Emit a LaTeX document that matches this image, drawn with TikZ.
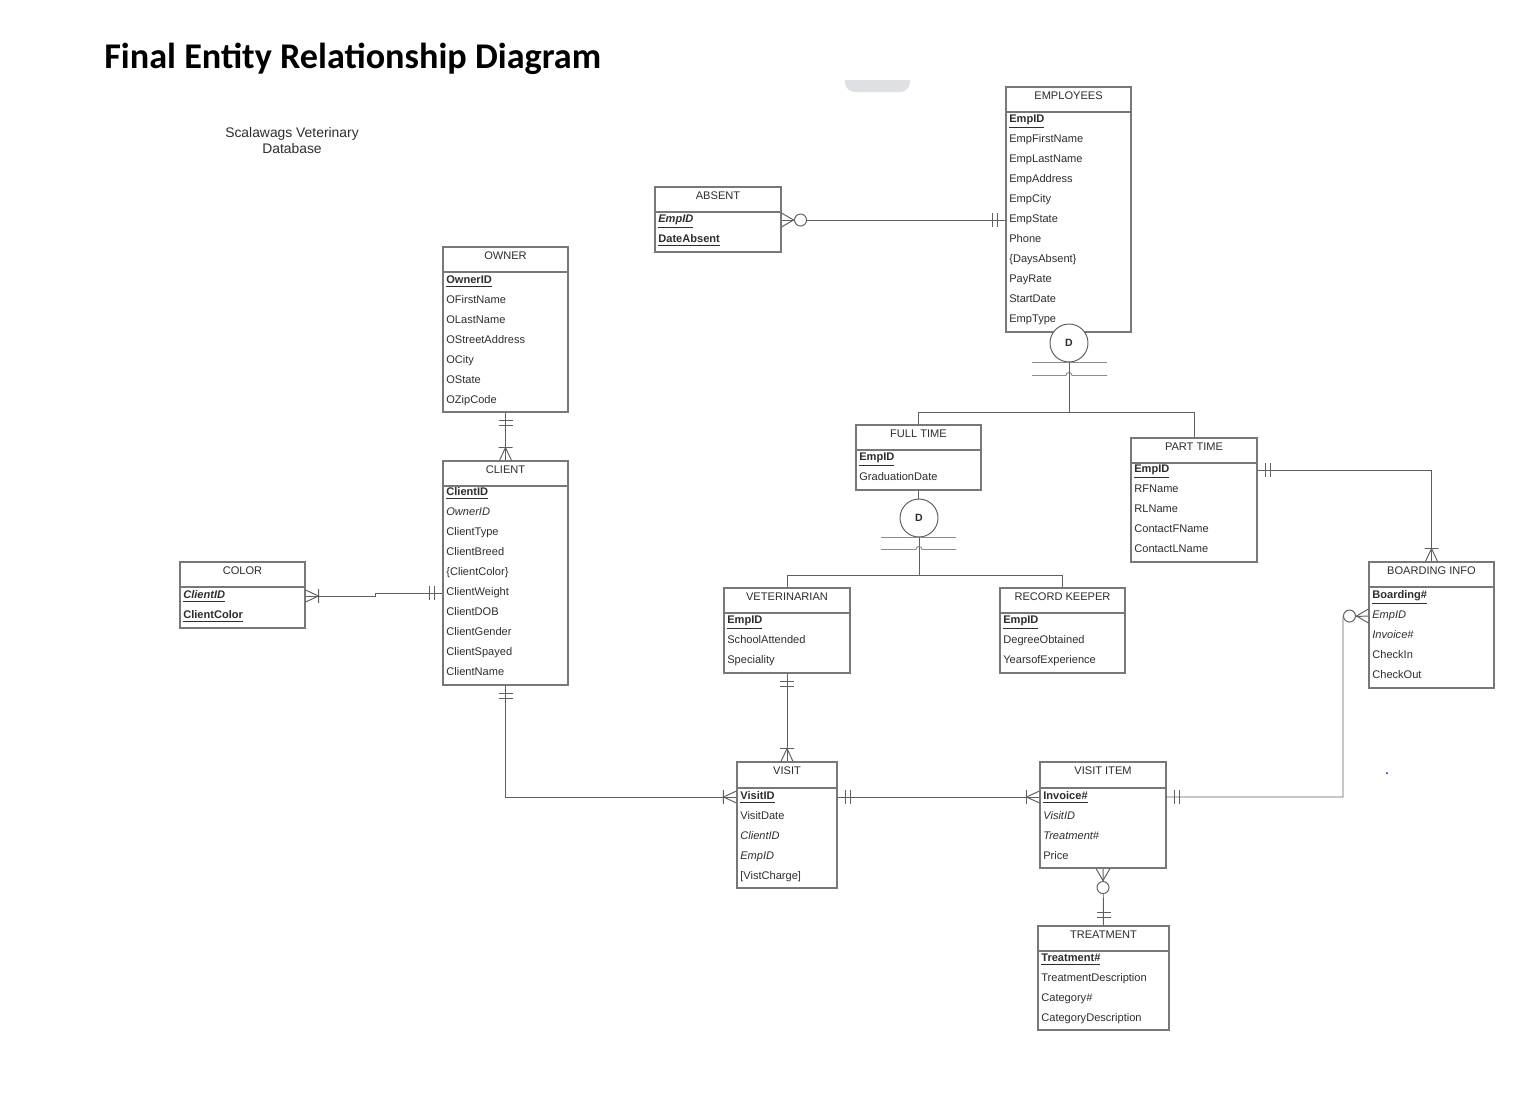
\documentclass[tikz,border=0pt]{standalone}
\usepackage{fontspec}
\setmainfont{Liberation Sans}
\newfontfamily\titlefont{Carlito}
\usetikzlibrary{fit}

\definecolor{linegray}{RGB}{95,95,95}
\definecolor{boxgray}{RGB}{120,120,120}
\definecolor{textgray}{RGB}{45,45,45}
\definecolor{tabgray}{RGB}{223,224,227}

\newcommand{\pkey}[1]{\underline{\textbf{#1}}}
\newcommand{\fkey}[1]{\textit{#1}}

% entity box: name, left, top, right, header bottom, bottom, title
\newcommand{\entity}[7]{%
  \node[ehead, fit={(#2,#3) (#4,#5)}] (#1) {#7};
  \node[ebody, fit={(#2,#5) (#4,#6)}] (#1b) {};
}
% attribute rows: name, left, first row y, list
\newcommand{\attrs}[4]{%
  \foreach \txt [count=\i] in {#4}
    \node[attr] (#1-\i) at (#2+3, #3+20*\i-20) {\txt};
}

\tikzset{
  mandone/.pic={\draw[conn] (8,-7) -- (8,7) (13,-7) -- (13,7);},
  onemany/.pic={\draw[conn] (0,-6) -- (13,0) -- (0,6) (13,-7) -- (13,7);},
  zeromany/.pic={\draw[conn] (0,-7) -- (12,0) -- (0,7);
                 \draw[conn, fill=white] (19,0) circle (6);},
}

\begin{document}
\begin{tikzpicture}[x=0.02cm, y=-0.02cm,
    conn/.style={draw=linegray, line width=0.55pt},
    ehead/.style={draw=boxgray, line width=0.6pt, inner sep=0pt, text=textgray,
                  font=\fontsize{6.3}{7.5}\selectfont},
    ebody/.style={draw=boxgray, line width=0.6pt, inner sep=0pt},
    attr/.style={anchor=west, inner sep=0pt, text=textgray,
                 text height=4.6pt, text depth=1.3pt,
                 font=\fontsize{6.3}{7.5}\selectfont},
    dcirc/.style={circle, draw=linegray, line width=0.55pt, fill=white,
                  minimum size=0.76cm, inner sep=0pt, text=textgray,
                  font=\bfseries\fontsize{6}{7}\selectfont},
    subline/.style={draw=black!45, line width=0.55pt}]
  \useasboundingbox (0,0) rectangle (1532,1110);

  \node[anchor=base west, inner sep=0pt,
        font=\titlefont\bfseries\fontsize{20.6}{24}\selectfont]
    (title) at (104,68) {Final Entity Relationship Diagram};
  \node[align=center, text=textgray, font=\fontsize{7.9}{9.1}\selectfont]
    (dbname) at (292,141) {Scalawags Veterinary\\Database};
  \begin{scope}
    \clip (845,80) rectangle (910,92);
    \fill[tabgray, rounded corners=0.2cm] (845,60) rectangle (910,92);
  \end{scope}
  \fill[blue] (1387,773) circle (1);

  % entities
  \entity{emp}{1006}{87}{1131}{112}{332}{EMPLOYEES}
  \attrs{emp}{1006}{120}{{\pkey{EmpID}}, EmpFirstName, EmpLastName, EmpAddress,
    EmpCity, EmpState, Phone, {\{DaysAbsent\}}, PayRate, StartDate, EmpType}

  \entity{absent}{655}{187}{781}{212}{252}{ABSENT}
  \attrs{absent}{655}{220}{{\pkey{\textit{EmpID}}}, {\pkey{DateAbsent}}}

  \entity{owner}{443}{247}{568}{272}{412}{OWNER}
  \attrs{owner}{443}{281}{{\pkey{OwnerID}}, OFirstName, OLastName, OStreetAddress,
    OCity, OState, OZipCode}

  \entity{client}{443}{461}{568}{486}{685}{CLIENT}
  \attrs{client}{443}{493}{{\pkey{ClientID}}, {\fkey{OwnerID}}, ClientType, ClientBreed,
    {\{ClientColor\}}, ClientWeight, ClientDOB, ClientGender, ClientSpayed, ClientName}

  \entity{color}{180}{562}{305}{587}{628}{COLOR}
  \attrs{color}{180}{596}{{\pkey{\textit{ClientID}}}, {\pkey{ClientColor}}}

  \entity{ft}{856}{425}{981}{450}{490}{FULL TIME}
  \attrs{ft}{856}{458}{{\pkey{EmpID}}, GraduationDate}

  \entity{pt}{1131}{438}{1257}{463}{562}{PART TIME}
  \attrs{pt}{1131}{470}{{\pkey{EmpID}}, RFName, RLName, ContactFName, ContactLName}

  \entity{vet}{724}{588}{850}{613}{673}{VETERINARIAN}
  \attrs{vet}{724}{621}{{\pkey{EmpID}}, SchoolAttended, Speciality}

  \entity{rk}{1000}{588}{1125}{613}{673}{RECORD KEEPER}
  \attrs{rk}{1000}{621}{{\pkey{EmpID}}, DegreeObtained, YearsofExperience}

  \entity{board}{1369}{562}{1494}{587}{688}{BOARDING INFO}
  \attrs{board}{1369}{596}{{\pkey{Boarding\#}}, {\fkey{EmpID}}, {\fkey{Invoice\#}},
    CheckIn, CheckOut}

  \entity{visit}{737}{762}{837}{788}{888}{VISIT}
  \attrs{visit}{737}{797}{{\pkey{VisitID}}, VisitDate, {\fkey{ClientID}}, {\fkey{EmpID}},
    {[VistCharge]}}

  \entity{item}{1040}{762}{1166}{788}{868}{VISIT ITEM}
  \attrs{item}{1040}{797}{{\pkey{Invoice\#}}, {\fkey{VisitID}}, {\fkey{Treatment\#}}, Price}

  \entity{treat}{1038}{926}{1169}{951}{1030}{TREATMENT}
  \attrs{treat}{1038}{959}{{\pkey{Treatment\#}}, TreatmentDescription, Category\#,
    CategoryDescription}

  % subtypes
  \node[dcirc] (d1) at (1069,343) {D};
  \coordinate (j1) at (1069,412);
  \draw[subline] (d1.south) ++(-37,0) -- ++(75,0);
  \draw[subline] (d1.south) ++(-37,13) -- ++(34,0)
    .. controls ++(0,-4) and ++(0,-4) .. ++(6,0) -- ++(35,0);
  \draw[conn] (d1.south) -- (j1);
  \draw[conn] (ft.north) |- (j1) -| (pt.north);

  \draw[conn] (ftb.south) -- (ft.south |- 0,499);
  \node[dcirc] (d2) at (919,518) {D};
  \coordinate (j2) at (919,575);
  \draw[subline] (d2.south) ++(-38,0) -- ++(75,0);
  \draw[subline] (d2.south) ++(-38,12) -- ++(35,0)
    .. controls ++(0,-4) and ++(0,-4) .. ++(6,0) -- ++(34,0);
  \draw[conn] (d2.south) -- (j2);
  \draw[conn] (vet.north) |- (j2) -| (rk.north);

  % relationships
  \coordinate (bcorner) at (1343,617);
  \coordinate (ccorner) at (375,596);
  \draw[conn] (absentb.east |- absent-1) -- (empb.west |- emp-6);
  \draw[conn] (ownerb.south) -- (client.north);
  \draw[conn] (colorb.east |- color-1) -- (ccorner) |- (clientb.west |- client-6);
  \draw[conn] (clientb.south) |- (visitb.west |- visit-1);
  \draw[conn] (vetb.south) -- (visit.north);
  \draw[conn] (visitb.east |- visit-1) -- (itemb.west |- item-1);
  \draw[conn] (itemb.east |- item-1) -| (bcorner) -- (boardb.west |- board-2);
  \draw[conn] (ptb.east |- pt-1) -| (board.north);
  \draw[conn] (itemb.south) -- (treat.north);

  % cardinalities
  \pic at (absentb.east |- absent-1) {zeromany};
  \pic[rotate=180] at (empb.west |- emp-6) {mandone};
  \pic[rotate=-90] at (ownerb.south) {mandone};
  \pic[rotate=90] at (client.north) {onemany};
  \pic at (colorb.east |- color-1) {onemany};
  \pic[rotate=180] at (clientb.west |- client-6) {mandone};
  \pic[rotate=-90] at (clientb.south) {mandone};
  \pic[rotate=180] at (visitb.west |- visit-1) {onemany};
  \pic[rotate=-90] at (vetb.south) {mandone};
  \pic[rotate=90] at (visit.north) {onemany};
  \pic at (visitb.east |- visit-1) {mandone};
  \pic[rotate=180] at (itemb.west |- item-1) {onemany};
  \pic at (itemb.east |- item-1) {mandone};
  \pic[rotate=180] at (boardb.west |- board-2) {zeromany};
  \pic at (ptb.east |- pt-1) {mandone};
  \pic[rotate=90] at (board.north) {onemany};
  \pic[rotate=-90] at (itemb.south) {zeromany};
  \pic[rotate=90] at (treat.north) {mandone};
\end{tikzpicture}
\end{document}
